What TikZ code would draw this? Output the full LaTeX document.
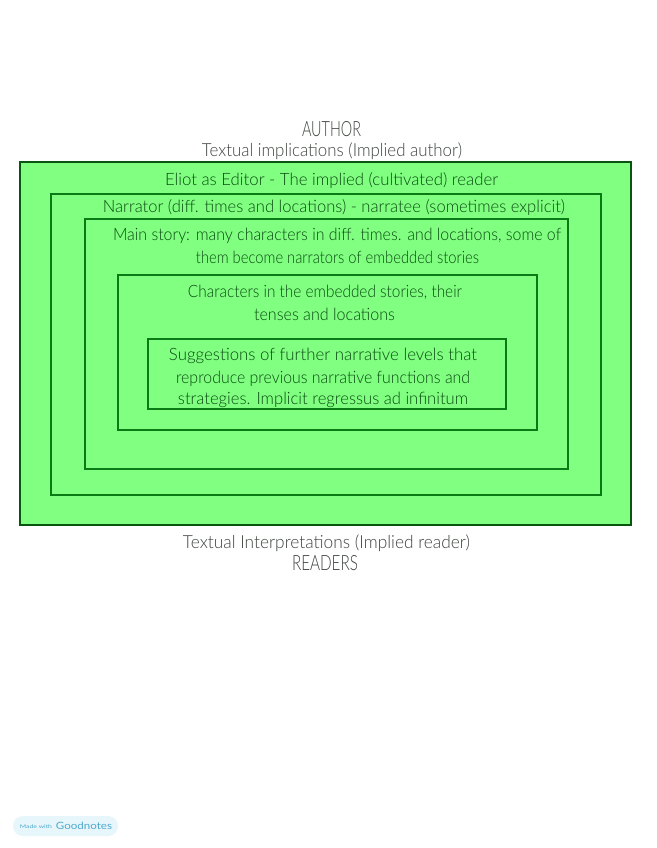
\documentclass[tikz,border=0pt]{standalone}
\usepackage{fontspec}
\usepackage{graphicx}
\setmainfont{Lato}[UprightFont=* Light]
\newfontfamily\badgefont{Lato}
\newcommand{\fitw}[2]{\resizebox{#1pt}{\height}{#2}}
\definecolor{panel}{HTML}{80FF80}
\definecolor{edge}{HTML}{0A7A14}
\definecolor{inktext}{HTML}{0A4A12}
\definecolor{greytext}{HTML}{3E433E}
\definecolor{badge}{HTML}{E6F6FB}
\definecolor{badgetext}{HTML}{4FA8CC}
\tikzset{
  framebox/.style={draw=edge,line width=1.9pt},
  outerbox/.style={fill=panel,draw=edge!70!black,line width=1.7pt},
  intext/.style={inner sep=0pt,text=inktext,font=\fontsize{17}{17}\selectfont,anchor=center},
  outtext/.style={inner sep=0pt,text=greytext,font=\fontsize{18}{18}\selectfont,anchor=center},
  titletext/.style={inner sep=0pt,text=greytext,font=\fontsize{21}{21}\selectfont,anchor=center},
  badgetextstyle/.style={inner sep=0pt,text=badgetext},
}
\begin{document}
\begin{tikzpicture}[x=1pt,y=-1pt]
\useasboundingbox (0,0) rectangle (656,848);
\fill[white] (0,0) rectangle (656,848);
\draw[outerbox] (20,162) rectangle (631,525);
\draw[framebox] (51,194) rectangle (601,495);
\draw[framebox] (85,219) rectangle (568,469);
\draw[framebox] (118,275) rectangle (537,430);
\draw[framebox] (148,339) rectangle (506,409);
\node[titletext] (author) at (331.5,129) {\fitw{59}{AUTHOR}};
\node[outtext] (impl) at (332,151.5) {\fitw{260}{Textual implications (Implied author)}};
\node[intext] (eliot) at (331.5,180.5) {\fitw{333}{Eliot as Editor - The implied (cultivated) reader}};
\node[intext] (narr) at (334,207.5) {\fitw{462}{Narrator (diff. times and locations) - narratee (sometimes explicit)}};
\node[intext] (mainA) at (337,235.5) {\fitw{448}{Main story: many characters in diff. times. and locations, some of}};
\node[intext] (mainB) at (337.5,257.5) {\fitw{283}{them become narrators of embedded stories}};
\node[intext] (charA) at (325,292.5) {\fitw{274}{Characters in the embedded stories, their}};
\node[intext] (charB) at (324.5,314.5) {\fitw{141}{tenses and locations}};
\node[intext] (sugA) at (323,355.5) {\fitw{308}{Suggestions of further narrative levels that}};
\node[intext] (sugB) at (323,378.5) {\fitw{294}{reproduce previous narrative functions and}};
\node[intext] (sugC) at (323,399.5) {\fitw{290}{strategies. Implicit regressus ad infinitum}};
\node[outtext] (interp) at (326.5,543.5) {\fitw{287}{Textual Interpretations (Implied reader)}};
\node[titletext] (readers) at (325,563) {\fitw{66}{READERS}};
\fill[badge,rounded corners=10pt] (13,816) rectangle (118,836);
\node[badgetextstyle,font=\badgefont\fontsize{5}{5}\selectfont] (made) at (36,826.5) {\fitw{32}{Made with}};
\node[badgetextstyle,font=\badgefont\fontsize{10}{10}\selectfont] (good) at (84,826) {\fitw{56}{Goodnotes}};
\end{tikzpicture}
\end{document}
